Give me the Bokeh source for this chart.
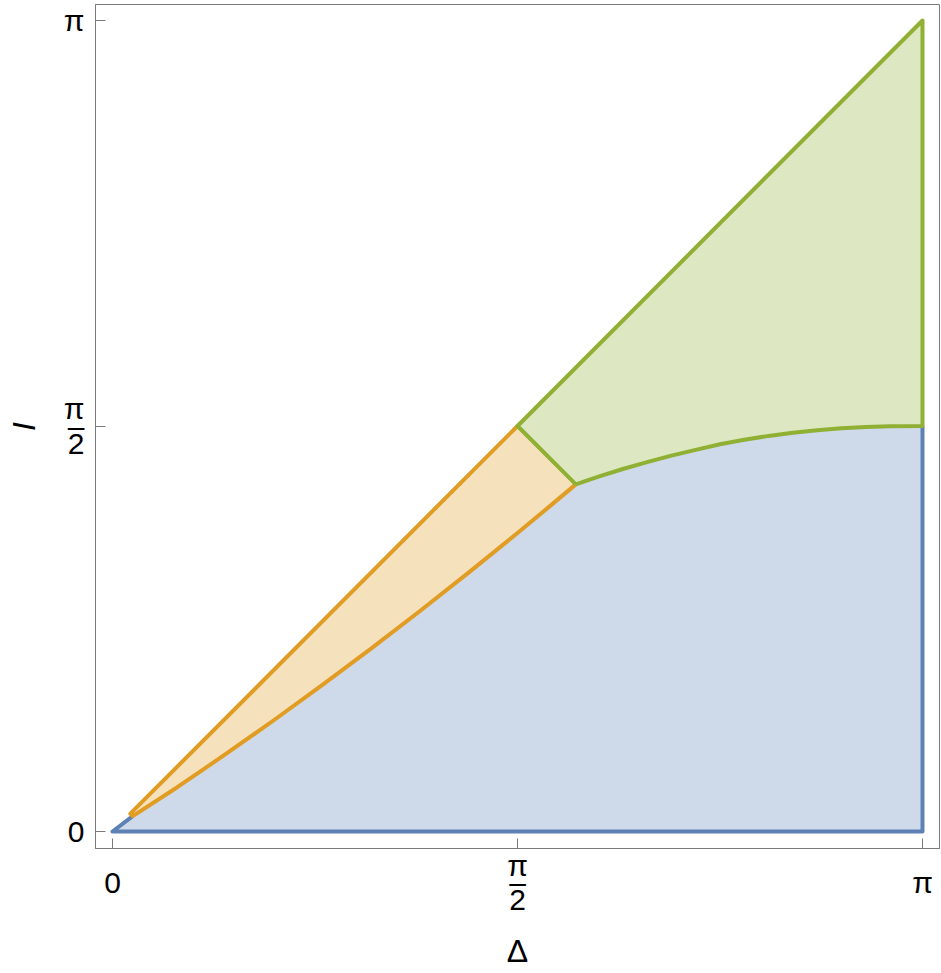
import numpy as np
from bokeh.plotting import figure
from bokeh.models import FixedTicker, Range1d
from bokeh.embed import file_html
from bokeh.resources import INLINE

PI = np.pi

# ---- data (in units of pi) ----
tick_vals = [0.0, 0.5, 1.0]
x_tick_text = [" \n0\n ", "π\n–\n2", " \nπ\n "]
y_tick_text = ["0", "π\n–\n2", "π"]

# corner where orange/green/blue meet (on Δ + I = π)
corner = (0.572, 0.428)
# start of the orange wedge near the origin
diag_start = (0.022, 0.022)

# lower boundary of orange region (orange / blue border)
orange_x = [0.025, 0.08, 0.14, 0.20, 0.26, 0.32, 0.38, 0.44, 0.50, 0.54, 0.572]
orange_y = [0.019, 0.0546, 0.0956, 0.1378, 0.1814, 0.2262, 0.2722, 0.3195, 0.3681, 0.4012, 0.428]

# lower boundary of green region (green / blue border)
green_x = [0.572, 0.60, 0.63, 0.66, 0.69, 0.72, 0.75, 0.78, 0.81, 0.84, 0.87, 0.90, 0.93, 0.96, 1.0]
green_y = [0.428, 0.4375, 0.447, 0.4555, 0.4635, 0.4705, 0.4775, 0.483, 0.4878, 0.4917, 0.4948,
           0.4971, 0.4987, 0.4996, 0.5]

BLUE, ORANGE, GREEN = "#5E81B5", "#E19C24", "#8FB032"
FRAME = "#7a7a7a"

def s(v):
    return [PI * t for t in v]

p = figure(frame_width=844, frame_height=844, output_backend="svg", toolbar_location=None,
           x_range=Range1d(-17 / 810 * PI, PI + 17 / 810 * PI),
           y_range=Range1d(-17 / 811 * PI, PI + 16 / 811 * PI),
           min_border_left=95, min_border_right=1, min_border_top=4, min_border_bottom=0)
p.grid.visible = False
p.outline_line_color = FRAME
p.outline_line_width = 1
p.background_fill_color = "white"
p.border_fill_color = "white"

# ---- polygons ----
blue_px = [0, 1] + [1] + green_x[::-1] + orange_x[::-1] + [0]
blue_py = [0, 0] + [0.5] + green_y[::-1] + orange_y[::-1] + [0]
orange_px = [diag_start[0], 0.5, corner[0]] + orange_x[::-1]
orange_py = [diag_start[1], 0.5, corner[1]] + orange_y[::-1]
green_px = [0.5, 1, 1] + green_x[::-1] + [corner[0]]
green_py = [0.5, 1, 0.5] + green_y[::-1] + [corner[1]]

for xs, ys, c in [(blue_px, blue_py, BLUE), (orange_px, orange_py, ORANGE), (green_px, green_py, GREEN)]:
    p.patch(s(xs), s(ys), fill_color=c, fill_alpha=0.3, line_color=None)

# ---- boundary lines ----
LW = 4
p.line(s([orange_x[0], 0, 1, 1]), s([orange_y[0], 0, 0, 0.5]), line_color=BLUE, line_width=LW, line_join="round")
p.line(s(orange_x[::-1] + [diag_start[0], 0.5]), s(orange_y[::-1] + [diag_start[1], 0.5]),
       line_color=ORANGE, line_width=LW, line_join="round")
p.line(s([corner[0], 0.5, 1, 1] + green_x[::-1]), s([corner[1], 0.5, 1, 0.5] + green_y[::-1]),
       line_color=GREEN, line_width=LW, line_join="round")

# ---- axes ----
ticks = s(tick_vals)
for ax, labels in ((p.xaxis[0], x_tick_text), (p.yaxis[0], y_tick_text)):
    ax.ticker = FixedTicker(ticks=ticks)
    ax.major_label_overrides = {t: lab for t, lab in zip(ticks, labels)}
    ax.minor_tick_line_color = None
    ax.major_tick_in = 10
    ax.major_tick_out = 0
    ax.major_tick_line_color = FRAME
    ax.axis_line_color = FRAME
    ax.major_label_text_font = "Liberation Sans"
    ax.major_label_text_font_size = "30px"
    ax.major_label_text_line_height = 0.52
    ax.major_label_text_color = "black"
    ax.axis_label_text_font = "Liberation Sans"
    ax.axis_label_text_font_size = "32px"
    ax.axis_label_text_line_height = 0.7
    ax.axis_label_text_color = "black"

p.xaxis[0].axis_label = "Δ"
p.xaxis[0].axis_label_text_font_style = "normal"
p.xaxis[0].major_label_standoff = 0
p.xaxis[0].axis_label_standoff = 14
p.yaxis[0].axis_label = "I"
p.yaxis[0].axis_label_text_font_style = "italic"
p.yaxis[0].major_label_standoff = 11
p.yaxis[0].axis_label_standoff = 19

open("out.html", "w").write(file_html(p, INLINE))
